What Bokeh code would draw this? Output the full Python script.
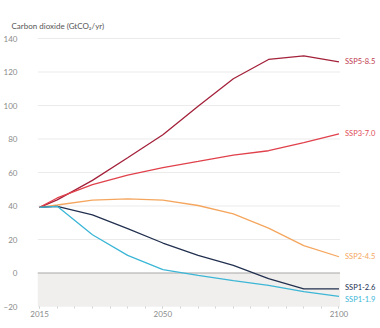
from bokeh.plotting import figure
from bokeh.models import FixedTicker, Range1d, BoxAnnotation
from bokeh.embed import file_html
from bokeh.resources import INLINE

years = [2015, 2020, 2030, 2040, 2050, 2060, 2070, 2080, 2090, 2100]
ssp585 = [39.2, 43.7, 55.3, 68.8, 82.5, 99.5, 116.0, 127.5, 129.6, 126.0]
ssp370 = [39.2, 44.8, 52.8, 58.5, 62.9, 66.6, 70.4, 73.0, 77.9, 83.0]
ssp245 = [39.2, 40.6, 43.5, 44.3, 43.5, 40.3, 35.3, 26.8, 16.3, 9.7]
ssp126 = [39.2, 39.8, 34.7, 26.5, 17.9, 10.5, 4.5, -3.3, -9.5, -9.5]
ssp119 = [39.2, 39.8, 22.8, 10.5, 2.0, -1.4, -4.5, -7.4, -11.1, -14.0]

series_names = ["SSP5-8.5", "SSP3-7.0", "SSP2-4.5", "SSP1-2.6", "SSP1-1.9"]
series_values = [ssp585, ssp370, ssp245, ssp126, ssp119]
series_colors = ["#a3213a", "#e0414b", "#f5a65e", "#22304f", "#3cb6d6"]
label_colors = ["#c0394e", "#e04a55", "#f5a65e", "#22304f", "#3cb6d6"]
label_dy = [0, 0, 0, -1, 3]

y_ticks = [-20, 0, 20, 40, 60, 80, 100, 120, 140]
x_ticks = [2015, 2050, 2100]
x_minor = list(range(2015, 2101, 5))

X0, X1, XL = 2014.4, 2100.3, 2111.5
FONT = "Lato"

p = figure(frame_width=342, frame_height=270, output_backend="svg", toolbar_location=None,
           x_range=Range1d(X0, XL), y_range=Range1d(-20, 141.2),
           min_border_left=30, min_border_right=0, min_border_top=36, min_border_bottom=14)

p.outline_line_color = None
p.background_fill_color = "white"
p.border_fill_color = "white"

p.title.text = "Carbon dioxide (GtCO\u2082/yr)"
p.title.align = "left"
p.title.offset = -26
p.title.text_font = FONT
p.title.text_font_size = "8px"
p.title.text_font_style = "normal"
p.title.text_color = "#555555"
p.title.standoff = 12

p.xgrid.visible = False
p.ygrid.visible = False

# shaded negative area
p.add_layout(BoxAnnotation(left=X0, right=X1, bottom=-20, top=0, fill_color="#f1efed",
                           fill_alpha=1.0, line_color=None, level="underlay"))

# horizontal grid lines limited to the data area
grid_y = [t for t in y_ticks if t != 0]
p.segment(x0=[X0] * len(grid_y), x1=[X1] * len(grid_y), y0=grid_y, y1=grid_y,
          line_color="#ebebeb", line_width=1, level="underlay")
p.segment(x0=[X0], x1=[X1], y0=[0], y1=[0], line_color="#a8a8a8", line_width=1.2)

# y axis
p.yaxis.ticker = FixedTicker(ticks=y_ticks)
p.yaxis.axis_line_color = None
p.yaxis.major_tick_line_color = None
p.yaxis.minor_tick_line_color = None
p.yaxis.major_label_standoff = 14
p.yaxis.major_label_text_font = FONT
p.yaxis.major_label_text_font_size = "8px"
p.yaxis.major_label_text_color = "#8a8a8a"

# x axis
p.xaxis.ticker = FixedTicker(ticks=x_ticks, minor_ticks=x_minor)
p.xaxis.axis_line_color = None
p.xaxis.major_tick_line_color = "#d2d2d2"
p.xaxis.minor_tick_line_color = "#d2d2d2"
p.xaxis.major_tick_out = 2
p.xaxis.major_tick_in = 0
p.xaxis.minor_tick_out = 2
p.xaxis.minor_tick_in = 0
p.xaxis.major_label_standoff = 2
p.xaxis.major_label_text_font = FONT
p.xaxis.major_label_text_font_size = "8px"
p.xaxis.major_label_text_color = "#8a8a8a"

for name, vals, col, lcol, dy in zip(series_names, series_values, series_colors, label_colors, label_dy):
    p.line(years, vals, line_color=col, line_width=1.3)
    p.text(x=[years[-1]], y=[vals[-1]], text=[name], x_offset=6, y_offset=dy,
           text_font={"value": FONT}, text_font_size="7.5px", text_color=lcol,
           text_baseline="middle", text_align="left")

open("out.html", "w").write(file_html(p, INLINE))
